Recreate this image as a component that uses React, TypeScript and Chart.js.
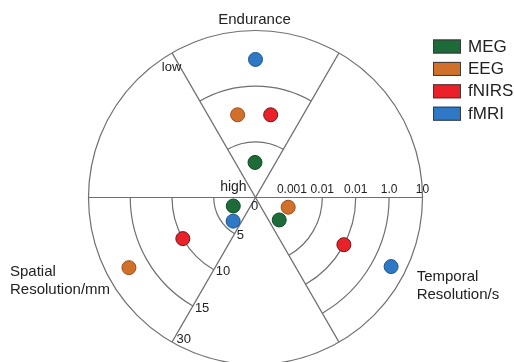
import React, { useEffect, useRef } from 'react';
import { Chart, registerables } from 'chart.js';

Chart.register(...registerables);

// ---- data -------------------------------------------------------------
const techniques = ['MEG', 'EEG', 'fNIRS', 'fMRI'];
const fillColors = ['#1d6b38', '#d0702b', '#ea2128', '#2e78c6'];
const edgeColors = ['#124a26', '#9a4f1c', '#6e1418', '#1f5590'];

// Endurance score: 0 = high (centre) ... 3 = low (rim)
const endurance = [0.63, 1.52, 1.51, 2.48];
const enduranceMax = 3;
const enduranceBands = [1, 2];

// Spatial resolution in mm
const spatialMm = [2.85, 22, 10, 3.9];
const spatialTicks = [0, 5, 10, 15, 30];
const spatialTickLabels = ['0', '5', '10', '15', '30'];

// Temporal resolution in s (log scale, one decade per ring)
const temporalS = [0.00095, 0.00105, 0.1, 3.6];
const temporalTicks = [0.001, 0.01, 0.1, 1, 10];
const temporalTickLabels = ['0.001', '0.01', '0.01', '1.0', '10'];

// ---- layout -------------------------------------------------------------
const W = 514;
const H = 362;
const CX = 255.5;
const CY = 197.5;
const RPX = 167;

// angle (deg, counter-clockwise from east) of each technique inside its sector
const enduranceAngle = [90.8, 102.2, 79.6, 90];
const spatialAngle = [200.9, 209, 209.5, 226.6];
const temporalAngle = [-43.4, -16.6, -28.1, -27];

const FONT = 'Arial, "Liberation Sans", sans-serif';
const TEXT = '#222222';
const GRID = '#6f6f6f';

// ---- radial mappings (0 = centre, 1 = rim) -----------------------------
const enduranceR = (v: number) => v / enduranceMax;

const spatialR = (v: number) => {
  const n = spatialTicks.length - 1;
  for (let i = 0; i < n; i++) {
    const a = spatialTicks[i];
    const b = spatialTicks[i + 1];
    if (v <= b) return (i + (v - a) / (b - a)) / n;
  }
  return 1;
};

const temporalR = (v: number) =>
  (Math.log10(v) - Math.log10(temporalTicks[0]) + 1) / temporalTicks.length;

const polarXY = (r: number, deg: number) => {
  const a = (deg * Math.PI) / 180;
  return { x: r * Math.cos(a), y: r * Math.sin(a) };
};

const datasets = techniques.map((name, i) => ({
  label: name,
  data: [
    polarXY(enduranceR(endurance[i]), enduranceAngle[i]),
    polarXY(spatialR(spatialMm[i]), spatialAngle[i]),
    polarXY(temporalR(temporalS[i]), temporalAngle[i]),
  ],
  backgroundColor: fillColors[i],
  borderColor: edgeColors[i],
  borderWidth: 1,
  pointRadius: 7,
  pointHoverRadius: 7,
}));

// ---- wheel grid, labels and legend -------------------------------------
const wheelPlugin = {
  id: 'wheel',
  beforeDatasetsDraw(chart: any) {
    const { ctx } = chart;
    const sx = chart.scales.x;
    const sy = chart.scales.y;
    const cx = sx.getPixelForValue(0);
    const cy = sy.getPixelForValue(0);
    const R = sx.getPixelForValue(1) - cx;
    const at = (r: number, deg: number) => {
      const p = polarXY(r, deg);
      return [sx.getPixelForValue(p.x), sy.getPixelForValue(p.y)];
    };
    const rad = (d: number) => (d * Math.PI) / 180;

    ctx.save();
    ctx.strokeStyle = GRID;
    ctx.lineWidth = 1.2;

    // rim
    ctx.beginPath();
    ctx.arc(cx, cy, R, 0, Math.PI * 2);
    ctx.stroke();

    // three diameters split the wheel into six sectors
    [0, 60, 120].forEach((d) => {
      const [x1, y1] = at(1, d);
      const [x2, y2] = at(1, d + 180);
      ctx.beginPath();
      ctx.moveTo(x1, y1);
      ctx.lineTo(x2, y2);
      ctx.stroke();
    });

    const ring = (r: number, from: number, to: number) => {
      ctx.beginPath();
      ctx.arc(cx, cy, r * R, rad(-to), rad(-from));
      ctx.stroke();
    };

    enduranceBands.forEach((b) => ring(enduranceR(b), 60, 120));
    spatialTicks.slice(1, -1).forEach((t) => ring(spatialR(t), 180, 240));
    temporalTicks.slice(1, -1).forEach((t) => ring(temporalR(t), 300, 360));

    ctx.fillStyle = TEXT;
    ctx.textBaseline = 'middle';

    // sector titles
    ctx.font = `15px ${FONT}`;
    ctx.textAlign = 'center';
    ctx.fillText('Endurance', cx - 1, cy - 1.065 * R);
    ctx.textAlign = 'left';
    ctx.fillText('Spatial', cx - 1.47 * R, cy + 0.445 * R);
    ctx.fillText('Resolution/mm', cx - 1.47 * R, cy + 0.555 * R);
    ctx.fillText('Temporal', cx + 0.965 * R, cy + 0.475 * R);
    ctx.fillText('Resolution/s', cx + 0.965 * R, cy + 0.585 * R);

    // endurance scale ends
    ctx.textAlign = 'right';
    ctx.font = `13px ${FONT}`;
    {
      const [lx, ly] = at(0.9, 120);
      ctx.fillText('low', lx + 1, ly);
    }
    ctx.font = `14px ${FONT}`;
    {
      const [hx, hy] = at(0.07, 120);
      ctx.fillText('high', hx - 3, hy);
    }

    // common origin
    ctx.font = `13px ${FONT}`;
    ctx.textAlign = 'center';
    ctx.fillText('0', cx - 1, cy + 9);

    // temporal ticks along the east radius
    ctx.font = `12px ${FONT}`;
    temporalTicks.forEach((t, i) => {
      const [tx, ty] = at(temporalR(t), 0);
      ctx.fillText(temporalTickLabels[i], tx + (i === 0 ? 3 : 0), ty - 7.5);
    });

    // spatial ticks along the 240 deg radius
    ctx.font = `13px ${FONT}`;
    ctx.textAlign = 'left';
    spatialTicks.forEach((t, i) => {
      if (i === 0) return;
      const [tx, ty] = at(Math.min(spatialR(t), 0.97), 240);
      ctx.fillText(spatialTickLabels[i], tx + 2, ty + 2);
    });

    ctx.restore();
  },
  afterDraw(chart: any) {
    const { ctx } = chart;
    const lx = 433;
    const ly = 39.5;
    const step = 22.4;
    ctx.save();
    ctx.font = `17px ${FONT}`;
    ctx.textAlign = 'left';
    ctx.textBaseline = 'middle';
    chart.data.datasets.forEach((ds: any, i: number) => {
      const top = ly + i * step;
      ctx.fillStyle = ds.backgroundColor;
      ctx.fillRect(lx, top, 28, 14);
      ctx.strokeStyle = '#3a3a3a';
      ctx.lineWidth = 1;
      ctx.strokeRect(lx + 0.5, top + 0.5, 27, 13);
      ctx.fillStyle = TEXT;
      ctx.fillText(ds.label, lx + 35, top + 7.5);
    });
    ctx.restore();
  },
};

export default function App() {
  const canvasRef = useRef<HTMLCanvasElement | null>(null);

  useEffect(() => {
    const canvas = canvasRef.current;
    if (!canvas) return;
    const chart = new Chart(canvas, {
      type: 'scatter',
      data: { datasets: datasets as any },
      options: {
        responsive: false,
        animation: false,
        devicePixelRatio: 1,
        events: [],
        layout: { padding: 0, autoPadding: false },
        scales: {
          x: { type: 'linear', display: false, min: -CX / RPX, max: (W - CX) / RPX },
          y: { type: 'linear', display: false, min: -(H - CY) / RPX, max: CY / RPX },
        },
        plugins: {
          legend: { display: false },
          tooltip: { enabled: false },
        },
      },
      plugins: [wheelPlugin],
    });
    return () => chart.destroy();
  }, []);

  return (
    <div style={{ position: 'fixed', left: 0, top: 0, width: W, height: H, background: '#fff' }}>
      <canvas ref={canvasRef} width={W} height={H} style={{ display: 'block' }} />
    </div>
  );
}
